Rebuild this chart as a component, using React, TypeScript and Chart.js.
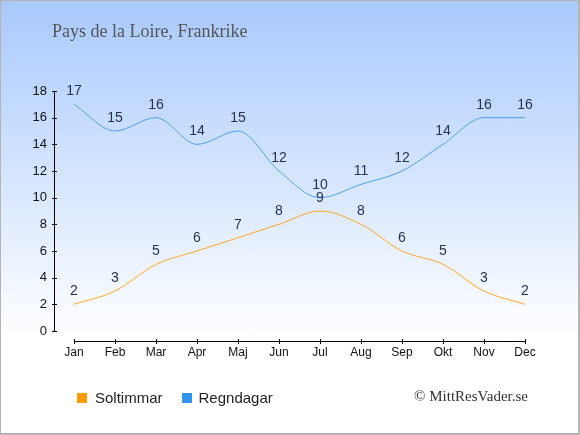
import { useEffect, useRef } from "react";
import { Chart, registerables } from "chart.js";

Chart.register(...registerables);

const months = ["Jan", "Feb", "Mar", "Apr", "Maj", "Jun", "Jul", "Aug", "Sep", "Okt", "Nov", "Dec"];
const soltimmar = [2, 3, 5, 6, 7, 8, 9, 8, 6, 5, 3, 2];
const regndagar = [17, 15, 16, 14, 15, 12, 10, 11, 12, 14, 16, 16];
const yTicks = [0, 2, 4, 6, 8, 10, 12, 14, 16, 18];

const SANS = "'Liberation Sans', Arial, sans-serif";
const SERIF = "'Liberation Serif', 'Times New Roman', serif";

// draws the detached axes, ticks and the value labels above the points
const axesPlugin = {
  id: "axesAndLabels",
  afterDatasetsDraw(chart: Chart) {
    const { ctx } = chart;
    const x = chart.scales.x;
    const y = chart.scales.y;
    const axisX = x.left - 20;
    const axisY = y.bottom + 10;

    ctx.save();
    ctx.strokeStyle = "#000";
    ctx.lineWidth = 1;

    // y axis
    ctx.beginPath();
    ctx.moveTo(axisX + 0.5, y.getPixelForValue(18));
    ctx.lineTo(axisX + 0.5, y.getPixelForValue(0));
    yTicks.forEach((t) => {
      const py = Math.round(y.getPixelForValue(t)) + 0.5;
      ctx.moveTo(axisX - 2, py);
      ctx.lineTo(axisX + 3, py);
    });
    ctx.stroke();

    // x axis
    ctx.beginPath();
    ctx.moveTo(x.getPixelForValue(0), axisY + 0.5);
    ctx.lineTo(x.getPixelForValue(months.length - 1), axisY + 0.5);
    months.forEach((_, i) => {
      const px = Math.round(x.getPixelForValue(i)) + 0.5;
      ctx.moveTo(px, axisY - 2);
      ctx.lineTo(px, axisY + 3);
    });
    ctx.stroke();

    ctx.fillStyle = "#111";
    ctx.font = `13px ${SANS}`;
    ctx.textAlign = "right";
    ctx.textBaseline = "middle";
    yTicks.forEach((t) => {
      ctx.fillText(String(t), axisX - 7, y.getPixelForValue(t));
    });
    ctx.textAlign = "center";
    ctx.font = `12px ${SANS}`;
    months.forEach((m, i) => {
      ctx.fillText(m, x.getPixelForValue(i), axisY + 12);
    });

    // value labels
    ctx.fillStyle = "#26334f";
    ctx.font = `14px ${SANS}`;
    [soltimmar, regndagar].forEach((series) => {
      series.forEach((v, i) => {
        ctx.fillText(String(v), x.getPixelForValue(i), y.getPixelForValue(v) - 13);
      });
    });
    ctx.restore();
  },
};

export default function App() {
  const canvasRef = useRef<HTMLCanvasElement | null>(null);

  useEffect(() => {
    if (!canvasRef.current) return;
    const chart = new Chart(canvasRef.current, {
      type: "line",
      data: {
        labels: months,
        datasets: [
          {
            label: "Soltimmar",
            data: soltimmar,
            borderColor: "#ffa625",
            borderWidth: 1,
            pointRadius: 0,
            cubicInterpolationMode: "monotone",
            fill: false,
          },
          {
            label: "Regndagar",
            data: regndagar,
            borderColor: "#4aa3ec",
            borderWidth: 1,
            pointRadius: 0,
            cubicInterpolationMode: "monotone",
            fill: false,
          },
        ],
      },
      options: {
        responsive: false,
        animation: false,
        clip: false,
        layout: { padding: { left: 74, right: 55, top: 91, bottom: 104 } },
        plugins: {
          legend: { display: false },
          title: { display: false },
          tooltip: { enabled: false },
        },
        scales: {
          x: { display: false, offset: false },
          y: { display: false, min: 0, max: 18 },
        },
      },
      plugins: [axesPlugin],
    });
    return () => chart.destroy();
  }, []);

  return (
    <div
      style={{
        position: "fixed",
        left: 0,
        top: 0,
        width: 580,
        height: 435,
        background: "linear-gradient(to bottom, #a8c9fe 0%, #ffffff 78%)",
        fontFamily: SANS,
      }}
    >
      <canvas ref={canvasRef} width={580} height={435} style={{ position: "absolute", left: 0, top: 0 }} />
      <div
        style={{
          position: "absolute",
          left: 52,
          top: 21,
          fontFamily: SERIF,
          fontSize: 18,
          color: "#555",
        }}
      >
        Pays de la Loire, Frankrike
      </div>
      <div style={{ position: "absolute", left: 77, top: 389, display: "flex", alignItems: "center", fontSize: 15, color: "#222" }}>
        <span style={{ width: 10, height: 10, background: "#ff9a00", display: "inline-block", marginRight: 8 }} />
        <span>Soltimmar</span>
        <span style={{ width: 10, height: 10, background: "#2f94ea", display: "inline-block", marginLeft: 19, marginRight: 7 }} />
        <span>Regndagar</span>
      </div>
      <div
        style={{
          position: "absolute",
          right: 52,
          top: 388,
          fontFamily: SERIF,
          fontSize: 15,
          color: "#333",
        }}
      >
        © MittResVader.se
      </div>
      <div
        style={{
          position: "absolute",
          inset: 0,
          border: "1px solid #b4b4b4",
          borderRightWidth: 2,
          borderBottomWidth: 2,
          pointerEvents: "none",
        }}
      />
    </div>
  );
}
